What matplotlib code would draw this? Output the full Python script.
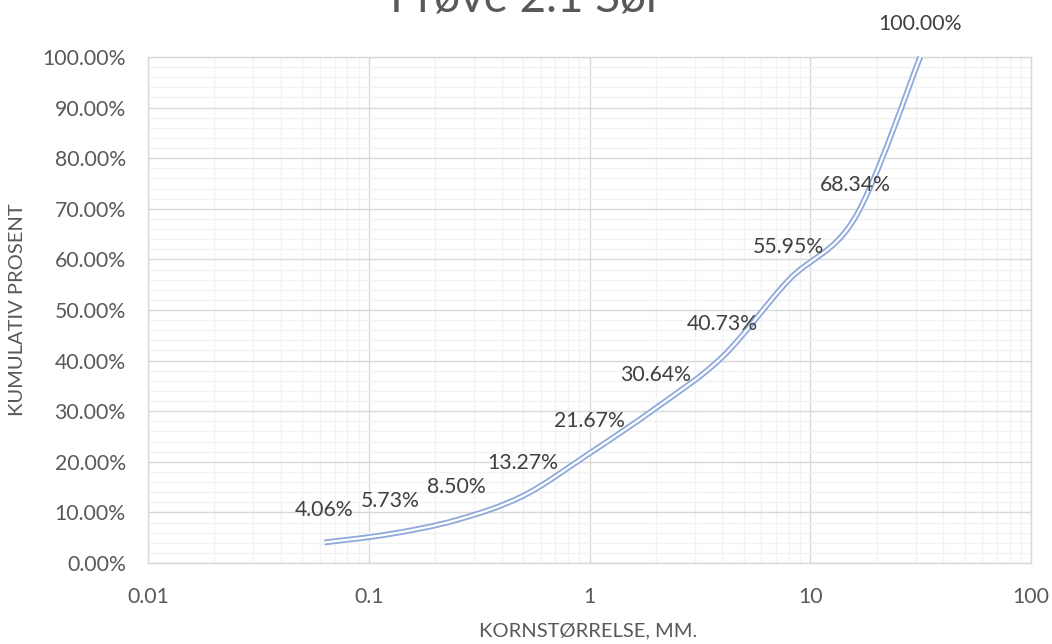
import numpy as np
import matplotlib
matplotlib.use("Agg")
import matplotlib.pyplot as plt
from matplotlib.path import Path
from matplotlib.patches import PathPatch
from matplotlib.ticker import FixedLocator, FuncFormatter, NullFormatter

plt.rcParams['font.family'] = ['Lato', 'DejaVu Sans']

sizes = [0.063, 0.125, 0.25, 0.5, 1, 2, 4, 8, 16, 31.5]
cumulative = [4.06, 5.73, 8.50, 13.27, 21.67, 30.64, 40.73, 55.95, 68.34, 100.00]
labels = ["4.06%", "5.73%", "8.50%", "13.27%", "21.67%", "30.64%", "40.73%", "55.95%", "68.34%", "100.00%"]
title = "Prøve 2.1 Sør"
xlabel = "KORNSTØRRELSE, MM."
ylabel = "KUMULATIV PROSENT"

W, H = 1052, 644
fig = plt.figure(figsize=(W/100, H/100), dpi=100)
ax = fig.add_axes([148/W, 1-563/H, (1031-148)/W, (563-57)/H])
ax.set_xscale('log')
ax.set_xlim(0.01, 100)
ax.set_ylim(0, 100)

# grid
ax.xaxis.set_major_locator(FixedLocator([0.01, 0.1, 1, 10, 100]))
minors = [m * 10.0**e for e in range(-2, 2) for m in range(2, 10)]
ax.xaxis.set_minor_locator(FixedLocator(minors))
ax.yaxis.set_major_locator(FixedLocator(np.arange(0, 101, 10)))
ax.yaxis.set_minor_locator(FixedLocator(np.arange(0, 101, 2)))
ax.grid(True, which='minor', color='#F2F2F2', lw=1.0, zorder=0)
ax.grid(True, which='major', color='#D9D9D9', lw=1.0, zorder=0)
ax.set_axisbelow(True)
for s in ax.spines.values():
    s.set_color('#D9D9D9')
    s.set_linewidth(1.0)
ax.tick_params(which='both', length=0, colors='#595959', labelsize=15.3)
ax.tick_params(axis='y', pad=16)
ax.tick_params(axis='x', pad=17)
ax.xaxis.set_major_formatter(FuncFormatter(lambda v, p: f"{v:g}"))
ax.xaxis.set_minor_formatter(NullFormatter())
ax.yaxis.set_major_formatter(FuncFormatter(lambda v, p: f"{v:.2f}%"))

# smoothed line (Bezier through points in log-x space)
lx = np.log10(sizes)
yy = np.array(cumulative, dtype=float)
n = len(lx)
verts = [(sizes[0], yy[0])]
codes = [Path.MOVETO]
for i in range(n - 1):
    p0 = np.array([lx[max(i-1, 0)], yy[max(i-1, 0)]])
    p1 = np.array([lx[i], yy[i]])
    p2 = np.array([lx[i+1], yy[i+1]])
    p3 = np.array([lx[min(i+2, n-1)], yy[min(i+2, n-1)]])
    c1 = p1 + (p2 - p0) / 6.0
    c2 = p2 - (p3 - p1) / 6.0
    for c in (c1, c2, p2):
        verts.append((10**c[0], c[1]))
        codes.append(Path.CURVE4)
path = Path(verts, codes)
ax.add_patch(PathPatch(path, facecolor='none', edgecolor='#8EA9DB', lw=4.2, zorder=3, clip_on=False, capstyle='butt'))
ax.add_patch(PathPatch(path, facecolor='none', edgecolor='white', lw=1.6, zorder=4, clip_on=False, capstyle='butt'))

for x, y, t in zip(sizes, cumulative, labels):
    ax.annotate(t, (x, y), xytext=(0, 23.5), textcoords='offset points', ha='center', va='center',
                fontsize=15.3, color='#404040', annotation_clip=False, zorder=5)

fig.text(0.5, 1 - 11.5/H, title, ha='center', va='baseline', fontsize=33, color='#595959')
fig.text(588/W, 1 - 631/H, xlabel, ha='center', va='center', fontsize=14.5, color='#595959')
fig.text(18/W, 1 - 310/H, ylabel, ha='center', va='center', rotation=90, fontsize=14.5, color='#595959')

fig.savefig('out.png', dpi=100)
